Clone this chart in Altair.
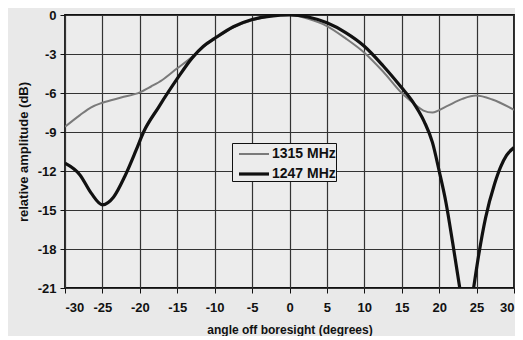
import altair as alt
import pandas as pd

# 1315 MHz pattern (thin gray)
ang_1315 = [-30, -28, -26.5, -25, -22.5, -20, -18.5, -17, -15, -13.5, -11.5, -10, -7.5, -5, -2.5, 0,
            2.5, 5, 7.5, 10, 12.5, 15, 16.4, 17.9, 19.1, 20.9, 23.1, 24.9, 27.1, 30]
amp_1315 = [-8.6, -7.7, -7.1, -6.75, -6.35, -5.95, -5.5, -5.0, -4.1, -3.45, -2.45, -1.85, -0.95, -0.4, -0.1, 0,
            -0.3, -0.85, -1.8, -2.9, -4.35, -6.0, -6.7, -7.35, -7.5, -7.05, -6.45, -6.2, -6.5, -7.3]

# 1247 MHz pattern (thick black)
ang_1247 = [-30, -28, -26.5, -25, -23.5, -22, -20.5, -19.5, -17.5, -15, -13, -11.5, -10, -7.5, -5, -2.5, 0,
            2.5, 5, 7.5, 10, 12.5, 15, 16.5, 18, 19.1, 20, 20.9, 21.8, 22.7, 23.7, 24.6, 25.3, 26.2, 27.4, 28.2, 29, 30]
amp_1247 = [-11.4, -12.3, -13.7, -14.6, -14.0, -12.4, -10.4, -9.0, -7.1, -4.9, -3.3, -2.4, -1.8, -0.9, -0.35, -0.08, 0,
            -0.15, -0.6, -1.35, -2.4, -3.9, -5.6, -6.7, -8.2, -9.8, -12.0, -14.4, -17.5, -20.8, -24.5, -21.0, -18.4, -15.6, -13.0, -11.7, -10.8, -10.2]

series_names = ["1315 MHz", "1247 MHz"]

df = pd.concat([
    pd.DataFrame({"angle": ang_1315, "amp": amp_1315, "series": series_names[0]}),
    pd.DataFrame({"angle": ang_1247, "amp": amp_1247, "series": series_names[1]}),
])

font = "Liberation Sans"

legend = alt.Legend(
    title=None, orient="none", legendX=167, legendY=128,
    symbolType="M-0.5,0H2.5", symbolSize=400,
    labelFont=font, labelFontSize=14, labelFontWeight="bold", labelColor="#111",
    labelExpr="datum.label + '\u00a0\u00a0'",
    labelOffset=16, fillColor="#ececec", strokeColor="#111", padding=0,
    rowPadding=1, direction="vertical",
)

tick_label = "replace(datum.label, '\u2212', '-')"

chart = alt.Chart(df).mark_line(clip=True, interpolate="monotone").encode(
    x=alt.X("angle:Q",
            scale=alt.Scale(domain=[-30, 30], nice=False),
            axis=alt.Axis(values=list(range(-30, 31, 5)), title="angle off boresight (degrees)",
                          labelExpr=tick_label,
                          labelFont=font, labelFontSize=13, labelFontWeight="bold", labelColor="#111",
                          titleFont=font, titleFontSize=12, titleFontWeight="bold", titleColor="#111",
                          tickSize=5, tickColor="#111", labelPadding=8, titlePadding=10,
                          gridColor="#333", gridWidth=1.2, gridOpacity=1, domain=False)),
    y=alt.Y("amp:Q",
            scale=alt.Scale(domain=[-21, 0], nice=False),
            axis=alt.Axis(values=list(range(-21, 1, 3)), title="relative amplitude (dB)",
                          labelExpr=tick_label,
                          labelFont=font, labelFontSize=13, labelFontWeight="bold", labelColor="#111",
                          titleFont=font, titleFontSize=13, titleFontWeight="bold", titleColor="#111",
                          tickSize=5, tickColor="#111", labelPadding=4, titlePadding=7,
                          gridColor="#333", gridWidth=1.2, gridOpacity=1, domain=False)),
    color=alt.Color("series:N", scale=alt.Scale(domain=series_names, range=["#7a7a7a", "#111111"]), legend=legend),
    strokeWidth=alt.StrokeWidth("series:N", scale=alt.Scale(domain=series_names, range=[2, 3.2]), legend=legend),
).properties(
    width=449, height=273,
    autosize=alt.AutoSizeParams(type="none"),
    padding={"left": 57, "top": 7, "right": 1, "bottom": 48},
    background="#e9e9e9",
).configure_view(
    stroke="#111", strokeWidth=1.8, fill="#ececec"
)

chart.save("out.html", embed_options={"renderer": "svg", "actions": False})
